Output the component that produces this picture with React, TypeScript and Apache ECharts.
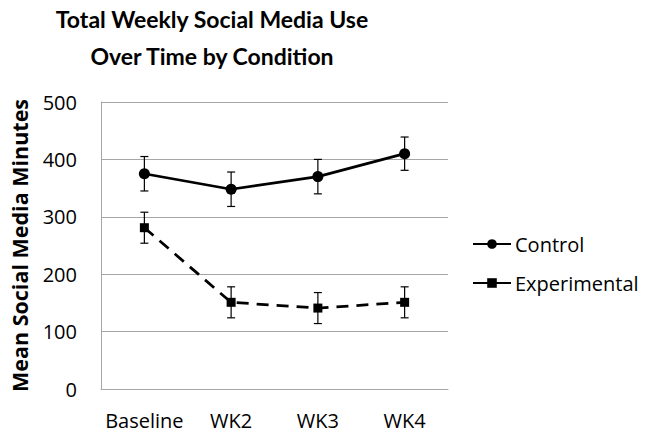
import React, { useEffect, useRef } from "react";
import * as echarts from "echarts";

const categories = ["Baseline", "WK2", "WK3", "WK4"];
const controlMean = [375, 348, 370, 410];
const controlErr = [30, 30, 30, 29];
const expMean = [281, 151, 141, 151];
const expErr = [27, 27, 27, 27];
const yTicks = { min: 0, max: 500, interval: 100 };

const FONT = "Open Sans";

function errData(mean: number[], err: number[]) {
  return mean.map((m, i) => [i, m - err[i], m + err[i]]);
}

function errSeries(name: string, mean: number[], err: number[]) {
  return {
    type: "custom",
    name: name + " err",
    data: errData(mean, err),
    z: 1,
    silent: true,
    renderItem: (params: any, api: any) => {
      const x = api.coord([api.value(0), api.value(1)])[0];
      const lo = api.coord([api.value(0), api.value(1)])[1];
      const hi = api.coord([api.value(0), api.value(2)])[1];
      const cap = 4;
      const style = { stroke: "#000", lineWidth: 1.2 };
      return {
        type: "group",
        children: [
          { type: "line", shape: { x1: x, y1: lo, x2: x, y2: hi }, style },
          { type: "line", shape: { x1: x - cap, y1: lo, x2: x + cap, y2: lo }, style },
          { type: "line", shape: { x1: x - cap, y1: hi, x2: x + cap, y2: hi }, style },
        ],
      };
    },
  };
}

export default function App() {
  const ref = useRef<HTMLDivElement>(null);
  useEffect(() => {
    if (!ref.current) return;
    const chart = echarts.init(ref.current, null, { renderer: "svg" });
    chart.setOption({
      animation: false,
      backgroundColor: "#fff",
      title: {
        text: "Total Weekly Social Media Use\nOver Time by Condition",
        left: 212,
        textAlign: "center",
        top: 0,
        padding: 0,
        textStyle: {
          fontFamily: "Lato",
          fontWeight: "bold",
          fontSize: 23,
          lineHeight: 37,
          color: "#000",
        },
      },
      legend: {
        orient: "vertical",
        left: 467,
        top: 229,
        itemGap: 19,
        itemWidth: 38,
        itemHeight: 12,
        textStyle: { fontFamily: FONT, fontSize: 20, color: "#000", padding: [0, 0, 0, -1] },
        data: [
          { name: "Control" },
          { name: "Experimental", lineStyle: { type: "solid" } },
        ],
      },
      grid: { left: 97, right: 201, top: 102, bottom: 46 },
      xAxis: {
        type: "category",
        data: categories,
        boundaryGap: true,
        axisLine: { lineStyle: { color: "#a6a6a6", width: 1 } },
        axisTick: { show: false },
        axisLabel: { fontFamily: FONT, fontSize: 20, color: "#000", margin: 21, interval: 0 },
      },
      yAxis: {
        type: "value",
        min: yTicks.min,
        max: yTicks.max,
        interval: yTicks.interval,
        name: "Mean Social Media Minutes",
        nameLocation: "middle",
        nameGap: 71,
        nameTextStyle: { fontFamily: FONT, fontWeight: "bold", fontSize: 21.5, color: "#000" },
        axisLine: { show: true, lineStyle: { color: "#a6a6a6", width: 1 } },
        axisTick: { show: false },
        splitLine: { lineStyle: { color: "#a6a6a6", width: 1 } },
        axisLabel: { fontFamily: FONT, fontSize: 20, color: "#000", margin: 24 },
      },
      series: [
        errSeries("Control", controlMean, controlErr),
        errSeries("Experimental", expMean, expErr),
        {
          type: "line",
          name: "Control",
          data: controlMean,
          symbol: "circle",
          symbolSize: 11,
          z: 3,
          lineStyle: { color: "#000", width: 2.75 },
          itemStyle: { color: "#000" },
        },
        {
          type: "line",
          name: "Experimental",
          data: expMean,
          symbol: "rect",
          symbolSize: 9,
          z: 3,
          lineStyle: { color: "#000", width: 2.75, type: [12, 8] },
          itemStyle: { color: "#000" },
        },
      ],
    });
    return () => chart.dispose();
  }, []);
  return <div ref={ref} style={{ width: 649, height: 435, position: "absolute", left: 0, top: 0 }} />;
}
